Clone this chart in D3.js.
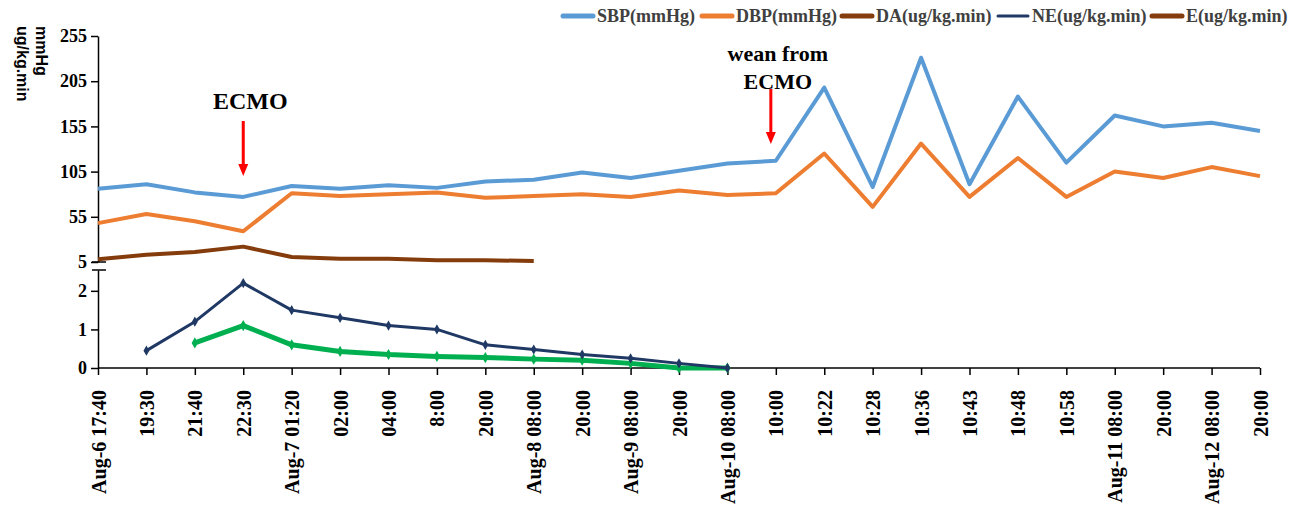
<!DOCTYPE html>
<html>
<head>
<meta charset="utf-8">
<script src="https://cdn.jsdelivr.net/npm/d3@7/dist/d3.min.js"></script>
<style>
  html, body { margin: 0; padding: 0; background: #fff; }
  svg { display: block; }
  .serif { font-family: "Liberation Serif", "Times New Roman", serif; font-weight: bold; }
</style>
</head>
<body>
<svg id="chart" width="1299" height="511"></svg>
<script>
// Time points along the x axis
const timeLabels = ["Aug-6 17:40","19:30","21:40","22:30","Aug-7 01:20","02:00","04:00","8:00","20:00",
  "Aug-8 08:00","20:00","Aug-9 08:00","20:00","Aug-10 08:00","10:00","10:22","10:28","10:36","10:43",
  "10:48","10:58","Aug-11 08:00","20:00","Aug-12 08:00","20:00"];

// Blood pressure (mmHg)
const sbp = [86,91,82,77,89,86,90,87,94,96,104,98,106,114,117,198,88,231,91,188,115,167,155,159,150];
const dbp = [48,58,50,39,81,78,80,82,76,78,80,77,84,79,81,125,66,136,77,120,77,105,98,110,100];

// Vasoactive doses (ug/kg.min)
const da = [8,13,16,22,10.5,8.5,8.5,7,7,6];
const ne = [null,0.45,1.2,2.2,1.5,1.3,1.1,1.0,0.6,0.48,0.35,0.25,0.12,0];
const ep = [null,null,0.65,1.1,0.6,0.43,0.35,0.3,0.27,0.23,0.2,0.12,0,0];

const upperTicks = [5,55,105,155,205,255];
const lowerTicks = [0,1,2];

const legendItems = [
  {label: "SBP(mmHg)", color: "#5B9BD5"},
  {label: "DBP(mmHg)", color: "#ED7D31"},
  {label: "DA(ug/kg.min)", color: "#843C0C"},
  {label: "NE(ug/kg.min)", color: "#1F3864"},
  {label: "E(ug/kg.min)", color: "#843C0C"}
];

const svg = d3.select("#chart");
const left = 98, right = 1260;

const x = d3.scalePoint().domain(d3.range(timeLabels.length)).range([left, right]);
const yUp = d3.scaleLinear().domain([5, 255]).range([262, 36]);
const yLow = d3.scaleLinear().domain([0, 2.54]).range([368, 270]);

// Axes
const axisUp = svg.append("g").attr("transform", `translate(${left},0)`)
  .call(d3.axisLeft(yUp).tickValues(upperTicks).tickSize(7).tickPadding(4).tickSizeOuter(0));
const axisLow = svg.append("g").attr("transform", `translate(${left},0)`)
  .call(d3.axisLeft(yLow).tickValues(lowerTicks).tickFormat(d3.format("d")).tickSize(7).tickPadding(4).tickSizeOuter(0));
const axisX = svg.append("g").attr("transform", `translate(0,368)`)
  .call(d3.axisBottom(x).tickFormat(i => timeLabels[i]).tickSize(7).tickSizeOuter(0));

[axisUp, axisLow, axisX].forEach(g => {
  g.select(".domain").attr("stroke", "#000").attr("stroke-width", 1.5);
  g.selectAll(".tick line").attr("stroke", "#000").attr("stroke-width", 1.5);
  g.selectAll("text").attr("class", "serif").attr("fill", "#000");
});
axisUp.selectAll("text").style("font-size", "18px");
axisLow.selectAll("text").style("font-size", "18px");
axisX.select(".domain").attr("d", `M${left},0H${right}`);
axisX.selectAll("text")
  .style("font-size", "20px")
  .attr("text-anchor", "end")
  .attr("transform", "rotate(-90)")
  .attr("x", -22).attr("y", 0).attr("dy", "0.35em");

// Axis break marks
svg.append("g").selectAll("line").data([yUp(5), yLow(2.54)]).join("line")
  .attr("x1", left - 6).attr("x2", left + 8)
  .attr("y1", d => d).attr("y2", d => d)
  .attr("stroke", "#000").attr("stroke-width", 1.5);

// Axis titles
const title = svg.append("text").attr("transform", "translate(36,26) rotate(90)")
  .style("font-family", "'Liberation Sans', Arial, sans-serif").style("font-weight", "bold").style("font-size", "16px");
title.append("tspan").attr("x", 0).attr("y", 0).text("mmHg");
title.append("tspan").attr("x", 0).attr("y", 19).text("ug/kg.min");

// Lines
const lineUp = d3.line().defined(d => d != null).x((d, i) => x(i)).y(d => yUp(d));
const lineLow = d3.line().defined(d => d != null).x((d, i) => x(i)).y(d => yLow(d));

svg.append("path").datum(sbp).attr("d", lineUp).attr("fill", "none")
  .attr("stroke", "#5B9BD5").attr("stroke-width", 4).attr("stroke-linejoin", "round");
svg.append("path").datum(dbp).attr("d", lineUp).attr("fill", "none")
  .attr("stroke", "#ED7D31").attr("stroke-width", 4).attr("stroke-linejoin", "round");
svg.append("path").datum(da).attr("d", lineUp).attr("fill", "none")
  .attr("stroke", "#843C0C").attr("stroke-width", 4).attr("stroke-linejoin", "round");

svg.append("path").datum(ep).attr("d", lineLow).attr("fill", "none")
  .attr("stroke", "#00B050").attr("stroke-width", 5).attr("stroke-linejoin", "round");
svg.append("g").selectAll("path")
  .data(ep.map((v, i) => ({v, i})).filter(d => d.v != null)).join("path")
  .attr("d", d3.symbol(d3.symbolDiamond, 36))
  .attr("transform", d => `translate(${x(d.i)},${yLow(d.v)})`)
  .attr("fill", "#00B050");

svg.append("path").datum(ne).attr("d", lineLow).attr("fill", "none")
  .attr("stroke", "#1F3864").attr("stroke-width", 3).attr("stroke-linejoin", "round");
svg.append("g").selectAll("path")
  .data(ne.map((v, i) => ({v, i})).filter(d => d.v != null)).join("path")
  .attr("d", d3.symbol(d3.symbolDiamond, 30))
  .attr("transform", d => `translate(${x(d.i)},${yLow(d.v)})`)
  .attr("fill", "#1F3864");

// Annotations
function arrow(cx, y1, y2) {
  svg.append("line").attr("x1", cx).attr("x2", cx).attr("y1", y1).attr("y2", y2 - 10)
    .attr("stroke", "#FF0000").attr("stroke-width", 3);
  svg.append("path").attr("d", `M${cx - 5},${y2 - 12}L${cx + 5},${y2 - 12}L${cx},${y2}Z`).attr("fill", "#FF0000");
}
svg.append("text").attr("class", "serif").attr("x", x(3) + 7).attr("y", 109)
  .attr("text-anchor", "middle").style("font-size", "24px").text("ECMO");
arrow(x(3), 121, 176);

const wean = svg.append("text").attr("class", "serif").attr("text-anchor", "middle").style("font-size", "22px");
wean.append("tspan").attr("x", x(14) + 2).attr("y", 61).text("wean from");
wean.append("tspan").attr("x", x(14) + 2).attr("y", 89).text("ECMO");
arrow(x(14) - 5, 89, 144);

// Legend
const swatchX = [563, 702, 842, 998, 1152];
const lg = svg.append("g");
legendItems.forEach((d, i) => {
  const g = lg.append("g").attr("transform", `translate(${swatchX[i]},16)`);
  g.append("line").attr("x1", 0).attr("x2", 30).attr("y1", 0).attr("y2", 0)
    .attr("stroke", d.color).attr("stroke-width", i === 3 ? 3 : 5).attr("stroke-linecap", "round");
  g.append("text").attr("class", "serif").attr("x", 34).attr("y", 6)
    .style("font-size", "18px").attr("fill", "#404040").text(d.label);
});
</script>
</body>
</html>
